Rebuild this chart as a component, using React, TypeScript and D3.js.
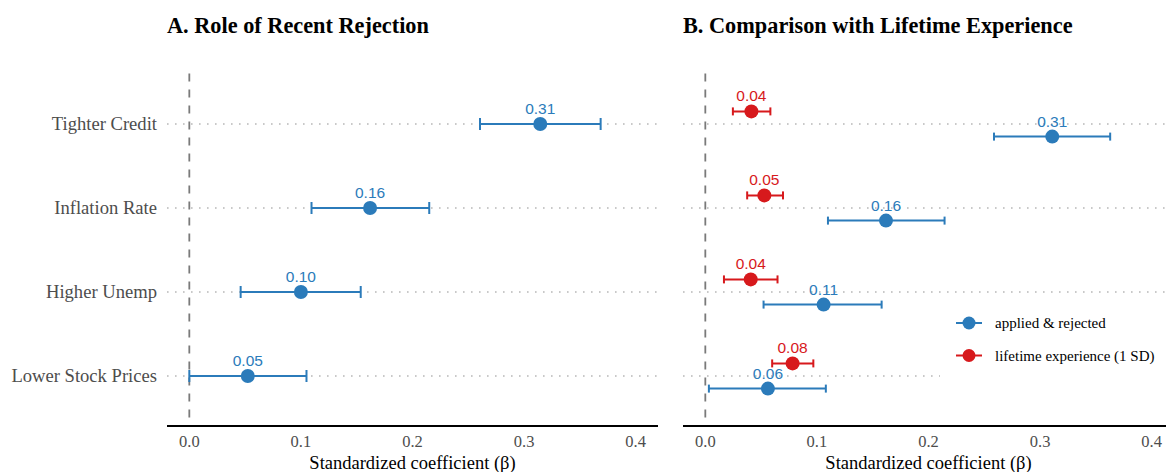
import * as d3 from "d3";
import React from "react";

// rows, top to bottom
const categories = ["Tighter Credit", "Inflation Rate", "Higher Unemp", "Lower Stock Prices"];

// Panel A: recent rejection
const recentEst = [0.3145, 0.162, 0.1, 0.0524];
const recentLo = [0.2605, 0.1095, 0.046, 0.0];
const recentHi = [0.3686, 0.215, 0.1536, 0.105];

// Panel B: applied & rejected
const appliedEst = [0.3109, 0.1619, 0.106, 0.0561];
const appliedLo = [0.2587, 0.1099, 0.0522, 0.0032];
const appliedHi = [0.3628, 0.2144, 0.158, 0.108];

// Panel B: lifetime experience (1 SD)
const lifeEst = [0.0413, 0.0529, 0.0407, 0.0782];
const lifeLo = [0.0247, 0.0375, 0.0167, 0.0599];
const lifeHi = [0.0583, 0.0696, 0.0647, 0.0968];

const xTicks = [0, 0.1, 0.2, 0.3, 0.4];
const legendLabels = ["applied & rejected", "lifetime experience (1 SD)"];

const BLUE = "#2b7bba";
const RED = "#d7191c";
const SERIF = "'Liberation Serif', 'Times New Roman', serif";
const SANS = "'Liberation Sans', Arial, sans-serif";

const fmt = d3.format(".2f");

const y = d3.scalePoint<string>().domain(categories).range([73.6, 426.4]).padding(0.6);

type Series = { est: number[]; lo: number[]; hi: number[]; color: string; dy: number; cap: number };

const Panel = ({ x0, x1, title, series, yLabels }: { x0: number; x1: number; title: string; series: Series[]; yLabels: boolean }) => {
  const x = d3.scaleLinear().domain([-0.02, 0.42]).range([x0, x1]);
  const [top, bottom] = y.range();
  return (
    <g>
      <text x={x0} y={33} fontFamily={SERIF} fontWeight="bold" fontSize={22.3} fill="#000">{title}</text>
      {categories.map((c) => (
        <line key={c} x1={x0} x2={x1} y1={y(c)} y2={y(c)} stroke="#b8b8b8" strokeWidth={1.6} strokeDasharray="1.6,6.4" />
      ))}
      {yLabels && categories.map((c) => (
        <text key={c} x={x0 - 10} y={y(c)! + 6} textAnchor="end" fontFamily={SERIF} fontSize={18.6} fill="#4d4d4d">{c}</text>
      ))}
      <line x1={x(0)} x2={x(0)} y1={top} y2={bottom} stroke="#7a7a7a" strokeWidth={1.8} strokeDasharray="8,8" />
      <line x1={x0} x2={x1} y1={426} y2={426} stroke="#000" strokeWidth={2} />
      {xTicks.map((t) => (
        <text key={t} x={x(t)} y={447} textAnchor="middle" fontFamily={SERIF} fontSize={16.5} fill="#4d4d4d">{d3.format(".1f")(t)}</text>
      ))}
      <text x={(x0 + x1) / 2} y={469} textAnchor="middle" fontFamily={SERIF} fontSize={18.5} fill="#000">Standardized coefficient (β)</text>
      {series.map((s, si) => (
        <g key={si}>
          {categories.map((c, i) => {
            const cy = y(c)! + s.dy;
            return (
              <g key={c}>
                <line x1={x(s.lo[i])} x2={x(s.hi[i])} y1={cy} y2={cy} stroke={s.color} strokeWidth={2} />
                <line x1={x(s.lo[i])} x2={x(s.lo[i])} y1={cy - s.cap} y2={cy + s.cap} stroke={s.color} strokeWidth={2} />
                <line x1={x(s.hi[i])} x2={x(s.hi[i])} y1={cy - s.cap} y2={cy + s.cap} stroke={s.color} strokeWidth={2} />
                <circle cx={x(s.est[i])} cy={cy} r={7} fill={s.color} />
                <text x={x(s.est[i])} y={cy - 10} textAnchor="middle" fontFamily={SANS} fontSize={15.5} fill={s.color}>{fmt(s.est[i])}</text>
              </g>
            );
          })}
        </g>
      ))}
    </g>
  );
};

export default function App() {
  const off = y.step() * 0.15;
  return (
    <svg width={1166} height={472} style={{ position: "absolute", left: 0, top: 0, background: "#fff" }}>
      <rect width={1166} height={472} fill="#fff" />
      <Panel
        x0={167}
        x1={658}
        title="A. Role of Recent Rejection"
        yLabels
        series={[{ est: recentEst, lo: recentLo, hi: recentHi, color: BLUE, dy: 0, cap: 6 }]}
      />
      <Panel
        x0={683}
        x1={1174}
        title="B. Comparison with Lifetime Experience"
        yLabels={false}
        series={[
          { est: appliedEst, lo: appliedLo, hi: appliedHi, color: BLUE, dy: off, cap: 4 },
          { est: lifeEst, lo: lifeLo, hi: lifeHi, color: RED, dy: -off, cap: 4 },
        ]}
      />
      {/* legend */}
      <g>
        <rect x={940} y={302} width={226} height={76} fill="#fff" />
        {legendLabels.map((l, i) => {
          const ly = 323 + i * 32.5;
          const col = i === 0 ? BLUE : RED;
          return (
            <g key={l}>
              <line x1={956} x2={982} y1={ly} y2={ly} stroke={col} strokeWidth={2} />
              <circle cx={969} cy={ly} r={6.5} fill={col} />
              <text x={995} y={ly + 5} fontFamily={SERIF} fontSize={15} fill="#000">{l}</text>
            </g>
          );
        })}
      </g>
    </svg>
  );
}
